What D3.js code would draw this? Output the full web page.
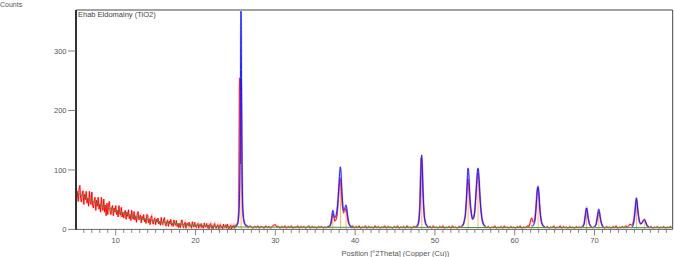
<!DOCTYPE html>
<html><head><meta charset="utf-8">
<script src="https://cdn.jsdelivr.net/npm/d3@7"></script>
<style>
html,body{margin:0;padding:0;background:#fff;}
svg{display:block;font-family:"Liberation Sans",Arial,sans-serif;}
</style></head>
<body><svg id="c" width="674" height="257"></svg>
<script>
// ---- data (°2Theta, counts) ----
const chartTitle = "Ehab Eldomainy (TiO2)";
const yTitle = "Counts";
const xTitle = "Position [°2Theta] (Copper (Cu))";
const xTickLabels = [10, 20, 30, 40, 50, 60, 70];
const yTickLabels = [0, 100, 200, 300];

const observed = [
 [5.0,75],[5.1,53],[5.2,64],[5.3,47],[5.4,67],[5.5,74],[5.6,52],[5.7,46],[5.8,59],[5.9,65],
 [6.0,42],[6.1,59],[6.2,50],[6.3,64],[6.4,44],[6.5,53],[6.6,39],[6.7,64],[6.8,46],[6.9,42],
 [7.0,63],[7.1,41],[7.2,36],[7.3,48],[7.4,54],[7.5,32],[7.6,49],[7.7,39],[7.8,54],[7.9,34],
 [8.0,43],[8.1,29],[8.2,54],[8.3,37],[8.4,32],[8.5,51],[8.6,29],[8.7,41],[8.8,23],[8.9,44],
 [9.0,25],[9.1,42],[9.2,47],[9.3,30],[9.4,25],[9.5,36],[9.6,40],[9.7,23],[9.8,36],[9.9,29],
 [10.0,40],[10.1,25],[10.2,32],[10.3,21],[10.4,40],[10.5,27],[10.6,24],[10.7,37],[10.8,21],[10.9,29],
 [11.0,19],[11.1,28],[11.2,32],[11.3,17],[11.4,29],[11.5,22],[11.6,33],[11.7,18],[11.8,25],[11.9,15],
 [12.0,32],[12.1,21],[12.2,17],[12.3,30],[12.4,16],[12.5,23],[12.6,12],[12.7,26],[12.8,30],[12.9,16],
 [13.0,21],[13.1,24],[13.2,11],[13.3,22],[13.4,16],[13.5,25],[13.6,13],[13.7,18],[13.8,10],[13.9,25],
 [14.0,24],[14.1,11],[14.2,18],[14.3,8],[14.4,20],[14.5,23],[14.6,12],[14.7,9],[14.8,16],[14.9,19],
 [15.0,8],[15.1,17],[15.2,12],[15.3,19],[15.4,9],[15.5,14],[15.6,7],[15.7,20],[15.8,10],[15.9,8],
 [16.0,16],[16.1,20],[16.2,9],[16.3,6],[16.4,12],[16.5,16],[16.6,5],[16.7,14],[16.8,9],[16.9,17],
 [17.0,7],[17.1,10],[17.2,5],[17.3,16],[17.4,9],[17.5,7],[17.6,15],[17.7,5],[17.8,10],[17.9,3],
 [18.0,10],[18.1,3],[18.2,12],[18.3,16],[18.4,6],[18.5,3],[18.6,9],[18.7,12],[18.8,2],[18.9,10],
 [19.0,10],[19.1,6],[19.2,12],[19.3,5],[19.4,7],[19.5,2],[19.6,13],[19.7,6],[19.8,4],[19.9,12],
 [20.0,5],[20.1,3],[20.2,8],[20.3,10],[20.4,2],[20.5,8],[20.6,5],[20.7,10],[20.8,3],[20.9,6],
 [21.0,2],[21.1,11],[21.2,5],[21.3,4],[21.4,10],[21.5,3],[21.6,7],[21.7,1],[21.8,8],[21.9,10],
 [22.0,2],[22.1,6],[22.2,1],[22.3,7],[22.4,10],[22.5,3],[22.6,2],[22.7,6],[22.8,8],[22.9,1],
 [23.0,4],[23.1,8],[23.2,3],[23.3,5],[23.4,1],[23.5,9],[23.6,4],[23.7,3],[23.8,8],[23.9,2],
 [24.0,9],[24.1,2],[24.2,1],[24.3,5],[24.4,7],[24.5,0],[24.6,6],[24.7,3],[24.8,7],[24.9,2],
 [25.0,7],[25.1,6],[25.2,9],[25.3,12],[25.4,30],[25.45,110],[25.5,240],[25.55,255],[25.6,200],[25.65,110],[25.7,150],[25.75,245],[25.8,150],[25.85,60],[25.9,35],[26.0,18],[26.1,11],[26.2,8],[26.3,6],[26.4,7],
 [26.6,3],[26.8,6],[27.0,4],[27.2,2],[27.4,5],[27.6,3],[27.8,6],[28.0,2],[28.2,5],[28.4,4],[28.6,2],[28.8,6],[29.0,3],[29.2,5],[29.4,2],[29.6,5],[29.8,7],[30.0,8],[30.2,4],[30.4,5],
 [30.6,2],[30.8,5],[31.0,3],[31.2,6],[31.4,2],[31.6,5],[31.8,3],[32.0,6],[32.2,2],[32.4,4],[32.6,3],[32.8,6],[33.0,2],[33.2,5],[33.4,3],[33.6,5],[33.8,2],[34.0,4],[34.2,6],[34.4,2],
 [34.6,5],[34.8,3],[35.0,4],[35.2,2],[35.4,5],[35.6,3],[35.8,5],[36.0,2],[36.2,4],[36.4,3],
 [36.6,5],[36.8,4],[37.0,10],[37.1,20],[37.2,26],[37.3,22],[37.45,14],[37.6,16],[37.75,24],[37.9,50],[38.0,70],[38.1,86],[38.2,80],[38.3,60],[38.4,40],[38.55,28],[38.7,30],[38.8,35],[38.9,34],[39.0,24],[39.15,12],[39.3,7],
 [39.5,3],[39.7,6],[39.9,2],[40.1,5],[40.3,3],[40.5,6],[40.7,2],[40.9,4],[41.1,3],[41.3,6],[41.5,2],[41.7,5],[41.9,3],[42.1,4],[42.3,2],[42.5,6],[42.7,3],[42.9,5],[43.1,2],[43.3,4],
 [43.5,3],[43.7,6],[43.9,2],[44.1,5],[44.3,3],[44.5,4],[44.7,2],[44.9,5],[45.1,3],[45.3,6],[45.5,2],[45.7,4],[45.9,3],[46.1,5],[46.3,2],[46.5,6],[46.7,3],[46.9,4],[47.1,2],[47.3,5],[47.5,4],[47.7,5],
 [47.9,10],[48.0,18],[48.1,40],[48.2,95],[48.27,120],[48.33,118],[48.4,105],[48.48,70],[48.58,40],[48.7,18],[48.85,9],[49.0,6],
 [49.2,3],[49.4,5],[49.6,2],[49.8,6],[50.0,3],[50.2,4],[50.4,2],[50.6,5],[50.8,3],[51.0,6],[51.2,2],[51.4,4],[51.6,3],[51.8,5],[52.0,2],[52.2,6],[52.4,3],[52.6,4],[52.8,2],[53.0,5],[53.2,4],
 [53.4,6],[53.6,10],[53.8,22],[53.95,48],[54.05,72],[54.13,85],[54.2,80],[54.3,62],[54.42,40],[54.55,28],[54.7,18],[54.85,20],[55.0,30],[55.15,60],[55.3,88],[55.4,95],[55.5,85],[55.6,60],[55.75,35],[55.9,18],[56.1,9],[56.3,5],
 [56.5,3],[56.7,5],[56.9,2],[57.1,4],[57.3,3],[57.5,6],[57.7,2],[57.9,4],[58.1,3],[58.3,5],[58.5,2],[58.7,6],[58.9,3],[59.1,4],[59.3,2],[59.5,5],[59.7,3],[59.9,4],[60.1,2],[60.3,5],
 [60.5,3],[60.7,6],[60.9,2],[61.1,4],[61.3,3],[61.5,5],[61.65,6],
 [61.8,5],[61.95,12],[62.05,18],[62.15,19],[62.25,14],[62.35,12],[62.5,15],[62.65,35],[62.75,55],[62.85,68],[62.92,70],[63.0,62],[63.1,45],[63.22,25],[63.35,12],[63.5,6],[63.7,4],
 [63.9,3],[64.1,5],[64.3,2],[64.5,4],[64.7,3],[64.9,6],[65.1,2],[65.3,4],[65.5,3],[65.7,6],[65.9,2],[66.1,5],[66.3,3],[66.5,4],[66.7,2],[66.9,5],[67.1,3],[67.3,4],[67.5,2],[67.7,5],[67.9,3],[68.1,4],[68.3,3],
 [68.5,5],[68.7,10],[68.85,24],[68.95,34],[69.02,36],[69.1,30],[69.22,18],[69.38,9],[69.6,4],[69.8,3],
 [70.0,5],[70.2,8],[70.35,18],[70.47,27],[70.55,30],[70.65,25],[70.78,14],[70.95,7],[71.1,4],
 [71.3,2],[71.5,5],[71.7,3],[71.9,4],[72.1,2],[72.3,5],[72.5,3],[72.7,6],[72.9,2],[73.1,4],[73.3,3],[73.5,5],[73.7,3],[73.9,6],[74.1,4],
 [74.3,6],[74.45,9],[74.6,7],[74.8,9],[74.95,18],[75.1,35],[75.2,48],[75.27,50],[75.35,42],[75.48,26],[75.62,14],[75.78,9],[75.95,11],[76.1,15],[76.25,17],[76.35,15],[76.5,9],[76.7,5],
 [76.9,3],[77.1,5],[77.3,2],[77.5,4],[77.7,3],[77.9,5],[78.1,2],[78.3,4],[78.5,3],[78.7,5],[78.9,2],[79.1,4],[79.3,3],[79.5,5],[79.7,3]
];

const calculated = [
 [[25.0,5],[25.2,7],[25.35,14],[25.45,30],[25.52,60],[25.58,120],[25.63,230],[25.67,330],[25.70,367],[25.73,330],[25.77,230],[25.82,120],[25.88,60],[25.95,30],[26.05,16],[26.2,9],[26.4,6],[26.6,5]],
 [[36.6,4],[36.9,8],[37.05,18],[37.15,29],[37.22,32],[37.3,27],[37.42,20],[37.55,21],[37.7,30],[37.85,50],[37.98,78],[38.08,98],[38.15,105],[38.22,98],[38.32,72],[38.45,42],[38.55,32],[38.65,33],[38.77,38],[38.85,41],[38.93,38],[39.05,25],[39.2,12],[39.4,6],[39.7,4]],
 [[47.7,4],[47.9,8],[48.05,22],[48.15,50],[48.22,85],[48.28,112],[48.33,125],[48.38,120],[48.45,95],[48.53,60],[48.62,32],[48.75,15],[48.95,7],[49.2,4]],
 [[53.4,5],[53.65,12],[53.85,30],[53.98,60],[54.07,88],[54.14,103],[54.2,100],[54.28,85],[54.38,58],[54.5,35],[54.62,22],[54.75,17],[54.88,20],[55.0,32],[55.12,55],[55.24,82],[55.33,98],[55.4,103],[55.47,98],[55.57,78],[55.7,45],[55.85,22],[56.0,11],[56.3,5]],
 [[62.2,5],[62.45,10],[62.6,22],[62.72,45],[62.82,65],[62.9,72],[62.97,70],[63.05,58],[63.15,36],[63.3,17],[63.5,8],[63.8,4]],
 [[68.5,4],[68.7,9],[68.82,20],[68.92,31],[69.0,36],[69.08,32],[69.2,20],[69.35,10],[69.55,5]],
 [[70.0,4],[70.2,9],[70.34,20],[70.45,30],[70.54,34],[70.62,30],[70.74,19],[70.9,9],[71.1,4]],
 [[74.7,4],[74.9,10],[75.05,25],[75.15,42],[75.24,53],[75.32,48],[75.45,30],[75.6,15],[75.75,10],[75.9,10],[76.05,13],[76.2,16],[76.3,16],[76.42,12],[76.6,6],[76.8,4]]
];

const background = [
 [5,63],[6,55],[7,48],[8,41.5],[9,36],[10,31.5],[11,27],[12,23],[13,19.5],[14,16.5],[15,14],[16,12],[17,10.5],[18,9],[19,7.8],[20,6.8],
 [21,6],[22,5.3],[23,4.8],[24,4.4],[26,4],[30,3.8],[40,3.5],[50,3.3],[60,3.1],[70,3],[79.8,3]
];

const stickPos =    [25.71, 37.2, 38.17, 38.87, 48.35, 54.16, 55.4, 62.1, 62.93, 69.0, 70.54, 75.26, 76.3];
const stickHeight = [280,   26,   88,    34,    105,   86,    88,   8,    62,    30,   28,    45,    14];

// ---- layout ----
const svg = d3.select("#c");
const L = 76, R = 672.7, T = 10, B = 229.4;
const x = d3.scaleLinear().domain([5.02, 79.8]).range([L, R]);
const y = d3.scaleLinear().domain([0, 369]).range([B, T]);

const g = svg.append("g");
svg.append("clipPath").attr("id","pc").append("rect")
  .attr("x", L).attr("y", T).attr("width", R - L).attr("height", B - T + 1);
const plot = g.append("g").attr("clip-path","url(#pc)");

const lin = d3.line().x(d => x(d[0])).y(d => y(d[1]));
const smooth = d3.line().x(d => x(d[0])).y(d => y(d[1])).curve(d3.curveMonotoneX);

// sticks
plot.selectAll("line.stick").data(stickPos).join("line")
  .attr("x1", d => x(d)).attr("x2", d => x(d))
  .attr("y1", y(0)).attr("y2", (d,i) => y(stickHeight[i]))
  .attr("stroke", "#ffa030").attr("stroke-opacity", 0.75).attr("stroke-width", 1);

// observed halo + line
plot.append("path").attr("d", lin(observed)).attr("fill","none")
  .attr("stroke","#ff8080").attr("stroke-opacity",0.45).attr("stroke-width",2);
plot.append("path").attr("d", lin(observed)).attr("fill","none")
  .attr("stroke","#ff0000").attr("stroke-width",0.9);

// calculated
calculated.forEach(seg => {
  plot.append("path").attr("d", smooth(seg)).attr("fill","none")
    .attr("stroke","#8080ff").attr("stroke-opacity",0.4).attr("stroke-width",2);
  plot.append("path").attr("d", smooth(seg)).attr("fill","none")
    .attr("stroke","#1010ff").attr("stroke-width",0.9);
});

// background
plot.append("path").attr("d", smooth(background))
  .attr("fill","none").attr("stroke","#3c9a3c").attr("stroke-width",1);

// frame (top and right)
g.append("line").attr("x1", L).attr("x2", R).attr("y1", T).attr("y2", T).attr("stroke","#444").attr("stroke-width",1);
g.append("line").attr("x1", R).attr("x2", R).attr("y1", T).attr("y2", B).attr("stroke","#444").attr("stroke-width",1);

// x axis
const xMinor = d3.range(6, 80, 1);
const xa = g.append("g").attr("transform", `translate(0,${B})`);
xa.append("line").attr("x1", L).attr("x2", R).attr("stroke","#666").attr("stroke-width",1);
xa.selectAll("line.mt").data(xMinor).join("line")
  .attr("x1", d => x(d)).attr("x2", d => x(d)).attr("y1", 0)
  .attr("y2", d => xTickLabels.includes(d) ? 6 : 3.5)
  .attr("stroke","#666").attr("stroke-width",0.8);
xa.selectAll("text").data(xTickLabels).join("text")
  .attr("x", d => x(d)).attr("y", 13.5).attr("text-anchor","middle")
  .attr("font-size", "7.5px").attr("fill","#555").text(d => d);

// y axis
const ya = g.append("g");
ya.append("line").attr("x1", L).attr("x2", L).attr("y1", T).attr("y2", B + 0.5).attr("stroke","#333").attr("stroke-width",2);
ya.selectAll("line.t").data(yTickLabels).join("line")
  .attr("x1", L - 8).attr("x2", L).attr("y1", d => y(d)).attr("y2", d => y(d))
  .attr("stroke","#666").attr("stroke-width",0.8);
ya.selectAll("text").data(yTickLabels).join("text")
  .attr("x", L - 9.5).attr("y", d => y(d) + 2.8).attr("text-anchor","end")
  .attr("font-size","7.5px").attr("fill","#555").text(d => d);

// texts
svg.append("text").attr("x", 0).attr("y", 6.5).attr("font-size","7px").attr("fill","#555").text(yTitle);
svg.append("text").attr("x", 78).attr("y", 17.3).attr("font-size","7.5px").attr("fill","#444").text(chartTitle);
svg.append("text").attr("x", 341.5).attr("y", 255.5).attr("font-size","7.5px").attr("fill","#555").text(xTitle);
</script></body></html>
